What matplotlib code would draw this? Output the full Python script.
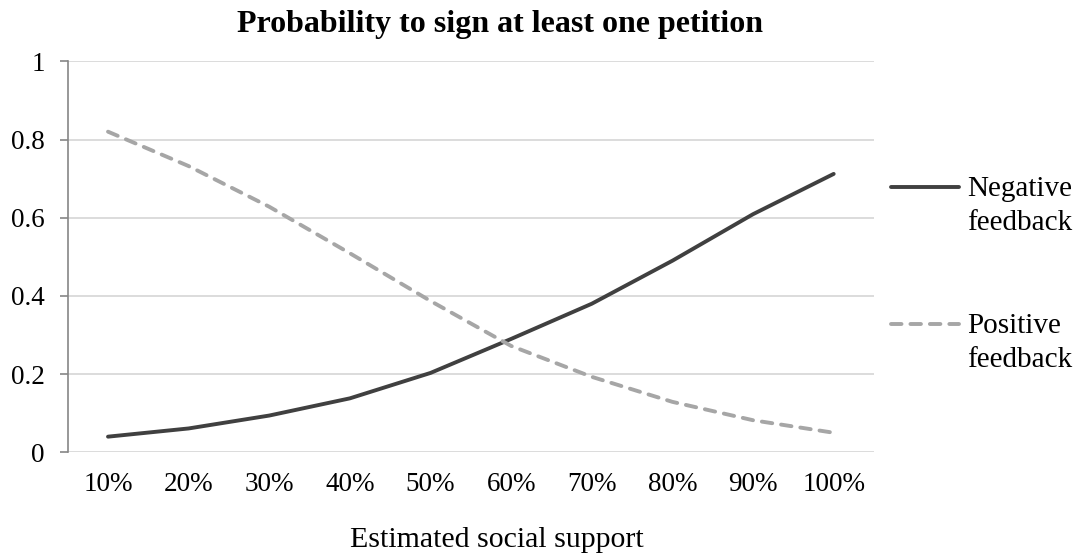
import matplotlib.pyplot as plt
from matplotlib.lines import Line2D

# Probability of signing at least one petition by estimated social support
support = ["10%", "20%", "30%", "40%", "50%", "60%", "70%", "80%", "90%", "100%"]
negative = [0.040, 0.061, 0.094, 0.138, 0.203, 0.290, 0.380, 0.490, 0.609, 0.712]
positive = [0.820, 0.732, 0.628, 0.509, 0.387, 0.272, 0.193, 0.129, 0.082, 0.050]

plt.rcParams["font.family"] = ["Liberation Serif", "DejaVu Serif"]

DARK = "#404040"
LIGHT = "#A6A6A6"
GRID = "#D9D9D9"
AXIS = "#868686"
W, H = 1078, 558
LW = 2.8
DASH = (2.7, 2.3)

fig = plt.figure(figsize=(W / 100, H / 100), dpi=100)
ax = fig.add_axes([67.7 / W, 1 - 452.3 / H, (874 - 67.7) / W, 391 / H])

x = list(range(len(support)))
ax.plot(x, negative, color=DARK, lw=LW, solid_capstyle="round",
        solid_joinstyle="round", zorder=3)
ax.plot(x, positive, color=LIGHT, lw=LW, dashes=DASH, dash_capstyle="round",
        dash_joinstyle="round", zorder=3)

ax.set_xlim(-0.5, len(support) - 0.5)
ax.set_ylim(0, 1)
ax.set_yticks([0, 0.2, 0.4, 0.6, 0.8, 1.0])
ax.set_yticklabels(["0", "0.2", "0.4", "0.6", "0.8", "1"])
ax.set_xticks(x)
ax.set_xticklabels(support)

ax.grid(axis="y", color=GRID, lw=1.3, zorder=0)
for side in ["top", "right", "bottom"]:
    ax.spines[side].set_visible(False)
ax.spines["left"].set_color(AXIS)
ax.spines["left"].set_linewidth(1.2)
ax.tick_params(axis="y", length=5.5, width=1.2, color=AXIS, labelsize=19.5, pad=11)
ax.tick_params(axis="x", length=0, labelsize=19.5, pad=14)

fig.text(497 / W, 1 - 547 / H, "Estimated social support",
         ha="center", va="baseline", fontsize=21.5)
fig.text(500 / W, 1 - 32.3 / H, "Probability to sign at least one petition",
         ha="center", va="baseline", fontsize=23, fontweight="bold")

# legend drawn by hand: line sample level with the first text line
entries = [("Negative", "feedback", DARK, None, 186.7, 196),
           ("Positive", "feedback", LIGHT, DASH, 324.3, 333)]
for first, second, color, dashes, yline, ybase in entries:
    yf = 1 - yline / H
    ln = Line2D([891 / W, 959 / W], [yf, yf], transform=fig.transFigure,
                color=color, lw=LW, solid_capstyle="round", dash_capstyle="round")
    if dashes:
        ln.set_dashes(dashes)
    fig.add_artist(ln)
    fig.text(966.7 / W, 1 - ybase / H, first, ha="left", va="baseline", fontsize=21)
    fig.text(966.7 / W, 1 - (ybase + 34.3) / H, second, ha="left", va="baseline", fontsize=21)

fig.savefig("out.png", dpi=100)
